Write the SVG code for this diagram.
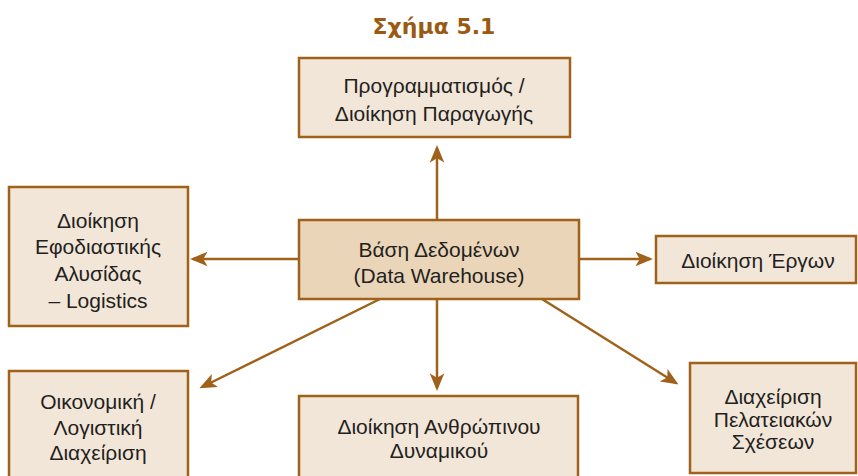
<svg xmlns="http://www.w3.org/2000/svg" width="858" height="476" viewBox="0 0 858 476">
  <style>
    .box { fill: #f2e6d9; stroke: #a0621a; stroke-width: 2.5; }
    .hub { fill: #ebd5b9; stroke: #a0621a; stroke-width: 2.5; }
    .lbl { font-family: "Liberation Sans", Arial, sans-serif; font-size: 21px; fill: #231f20; text-anchor: middle; }
    .title { font-family: "DejaVu Sans", "Liberation Sans", sans-serif; font-size: 22px; font-weight: bold; fill: #9a5a12; text-anchor: middle; }
    .link { stroke: #a0621a; stroke-width: 2.5; fill: none; marker-end: url(#head); }
  </style>
  <defs>
    <marker id="head" viewBox="0 0 12 10" refX="10" refY="5" markerWidth="7" markerHeight="6" markerUnits="strokeWidth" orient="auto">
      <path d="M0,0 L12,5 L0,10 L3,5 Z" fill="#a0621a"/>
    </marker>
  </defs>

  <rect width="858" height="476" fill="#ffffff"/>

  <text class="title" x="434" y="34">Σχήμα 5.1</text>

  <g id="connectors">
    <line class="link" x1="437" y1="220" x2="437" y2="148"/>
    <line class="link" x1="299" y1="259" x2="193" y2="259"/>
    <line class="link" x1="579" y1="259" x2="650" y2="259"/>
    <line class="link" x1="437" y1="299" x2="437" y2="388"/>
    <line class="link" x1="380" y1="299" x2="202" y2="387"/>
    <line class="link" x1="542" y1="299" x2="676" y2="383"/>
  </g>

  <g id="node-production">
    <rect class="box" x="299" y="58" width="271" height="79"/>
    <text class="lbl" x="434" y="93">Προγραμματισμός /</text>
    <text class="lbl" x="434" y="121">Διοίκηση Παραγωγής</text>
  </g>

  <g id="node-warehouse">
    <rect class="hub" x="299" y="220" width="280" height="79"/>
    <text class="lbl" x="439" y="257">Βάση Δεδομένων</text>
    <text class="lbl" x="439" y="283">(Data Warehouse)</text>
  </g>

  <g id="node-logistics">
    <rect class="box" x="9" y="187" width="179" height="139"/>
    <text class="lbl" x="98" y="228">Διοίκηση</text>
    <text class="lbl" x="98" y="254">Εφοδιαστικής</text>
    <text class="lbl" x="98" y="281">Αλυσίδας</text>
    <text class="lbl" x="98" y="308">– Logistics</text>
  </g>

  <g id="node-projects">
    <rect class="box" x="656" y="236" width="200" height="47"/>
    <text class="lbl" x="758" y="268">Διοίκηση Έργων</text>
  </g>

  <g id="node-finance">
    <rect class="box" x="9" y="371" width="179" height="110"/>
    <text class="lbl" x="98" y="409">Οικονομική /</text>
    <text class="lbl" x="98" y="435">Λογιστική</text>
    <text class="lbl" x="98" y="460">Διαχείριση</text>
  </g>

  <g id="node-hr">
    <rect class="box" x="299" y="396" width="279" height="85"/>
    <text class="lbl" x="439" y="434">Διοίκηση Ανθρώπινου</text>
    <text class="lbl" x="439" y="458">Δυναμικού</text>
  </g>

  <g id="node-crm">
    <rect class="box" x="690" y="363" width="166" height="110"/>
    <text class="lbl" x="773" y="404">Διαχείριση</text>
    <text class="lbl" x="773" y="427">Πελατειακών</text>
    <text class="lbl" x="773" y="449">Σχέσεων</text>
  </g>
</svg>
